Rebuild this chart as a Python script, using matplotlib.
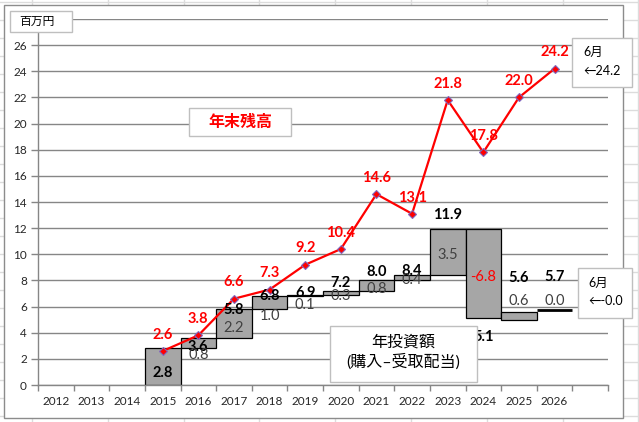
import numpy as np
import matplotlib
matplotlib.use("Agg")
import matplotlib.pyplot as plt
from matplotlib.patches import Rectangle
from matplotlib.lines import Line2D

plt.rcParams['font.family'] = ['Lato', 'Noto Sans CJK JP', 'DejaVu Sans']

# Data
years = ['2012', '2013', '2014', '2015', '2016', '2017', '2018', '2019',
         '2020', '2021', '2022', '2023', '2024', '2025', '2026', '']
data_years = ['2015', '2016', '2017', '2018', '2019', '2020', '2021',
              '2022', '2023', '2024', '2025', '2026']
invest = [2.8, 0.8, 2.2, 1.0, 0.1, 0.3, 0.8, 0.4, 3.5, -6.8, 0.6, 0.0]      # 年投資額
total = [2.8, 3.6, 5.8, 6.8, 6.9, 7.2, 8.0, 8.4, 11.9, 5.1, 5.6, 5.7]      # 累計投資額
balance = [2.6, 3.8, 6.6, 7.3, 9.2, 10.4, 14.6, 13.1, 21.8, 17.8, 22.0, 24.2]  # 年末残高

# label placement tweaks (pixels, up is positive), as placed by hand in the original
tot_dy = [-23.6, -7.7, 0.5, 1.8, 2.8, 8.9, 9.4, 5.2, 15.5, -17.7, 35, 34.5]
inc_dy = [None, -10.8, -3.1, -12.4, -7.9, -2.2, -2.1, -1.2, -1.0, -2.1, 15.7, 10.5]

W, H = 639, 422
fig = plt.figure(figsize=(W / 100, H / 100), dpi=100)

def fx(px):
    return px / W

def fy(py):
    return 1 - py / H

# spreadsheet cell grid behind the chart
for cx in np.arange(32, W, 75.8):
    fig.add_artist(Line2D([fx(cx)] * 2, [0, 1], transform=fig.transFigure,
                          color='#DCDCDC', lw=1, zorder=-5))
for cy in np.arange(2, H, 18):
    fig.add_artist(Line2D([0, 1], [fy(cy)] * 2, transform=fig.transFigure,
                          color='#DCDCDC', lw=1, zorder=-5))
# chart area
fig.add_artist(Rectangle((fx(4), fy(418)), fx(619), (418 - 5) / H,
                         transform=fig.transFigure, fc='white', ec='#8C8C8C',
                         lw=1, zorder=-4))

ax = fig.add_axes([fx(38), fy(385), fx(570), 366 / H])
ax.patch.set_visible(False)

x = np.arange(len(years))
xb = np.array([years.index(y) for y in data_years])
inv = np.array(invest)
tot = np.array(total)

ax.set_xlim(-0.5, len(years) - 0.5)
ax.set_ylim(0, 28)
ax.set_yticks(np.arange(0, 29, 2))
ax.set_yticklabels([str(v) for v in range(0, 27, 2)] + [''])
ax.set_xticks(x)
ax.set_xticklabels(years)
ax.set_xticks(np.arange(-0.5, len(years)), minor=True)
ax.tick_params(axis='x', which='major', length=0, pad=8, labelsize=8.5, colors='#262626')
ax.tick_params(axis='x', which='minor', length=4, width=1, color='#868686', direction='out')
ax.tick_params(axis='y', length=5, width=1, color='#868686', pad=3, labelsize=8.5,
               labelcolor='#262626')
ax.grid(axis='y', color='#868686', lw=1)
ax.set_axisbelow(True)
for s in ['top', 'right']:
    ax.spines[s].set_visible(False)
for s in ['left', 'bottom']:
    ax.spines[s].set_color('#868686')
    ax.spines[s].set_linewidth(1)

# waterfall bars (a zero step shows as a heavy flat line)
edge_w = [2.0 if v == 0 else 0.9 for v in invest]
ax.bar(xb, inv, bottom=tot - inv, width=1.0, color='#A6A6A6',
       edgecolor='black', linewidth=edge_w, zorder=2)

# year-end balance line
ax.plot(xb, balance, color='red', lw=1.6, marker='D', ms=4, mfc='red',
        mec='#8068C0', mew=0.8, zorder=4)


def label(xv, yv, dy, txt, size, **kw):
    ax.annotate(txt, (xv, yv), xytext=(0, dy - size / 2), textcoords='offset pixels',
                ha='center', va='baseline', fontsize=size, zorder=6, **kw)


for i in range(len(xb)):
    label(xb[i], balance[i], 17.5, f'{balance[i]:.1f}', 10.5, color='red',
          fontweight='bold')
    label(xb[i], tot[i], tot_dy[i], f'{tot[i]:.1f}', 10.5, color='black',
          fontweight='bold')
    if inc_dy[i] is not None:
        c = 'red' if inv[i] < 0 else '#404040'
        label(xb[i], tot[i] - inv[i] / 2, inc_dy[i], f'{inv[i]:.1f}', 10.5, color=c)


def fig_box(x0, y0, x1, y1):
    fig.add_artist(Rectangle((fx(x0), fy(y1)), fx(x1 - x0), (y1 - y0) / H,
                             transform=fig.transFigure, fc='white', ec='#BFBFBF',
                             lw=1, zorder=10))


def fig_text(px, py, s, **kw):
    fig.text(fx(px), fy(py), s, va='center', zorder=11, **kw)


fig_box(10, 11, 72, 32)
fig_text(19, 21.5, '百万円', fontsize=8.5, color='black')

fig_box(189, 108, 291, 136)
fig_text(240, 122, '年末残高', fontsize=11.5, color='red', ha='center', fontweight='bold')

fig_box(330, 326, 477, 382)
fig_text(403, 342, '年投資額', fontsize=11.5, color='black', ha='center')
fig_text(403, 362, '(購入–受取配当)', fontsize=11.5, color='black', ha='center')

fig_box(572, 38, 632, 87)
fig_text(583, 52, '6月', fontsize=9, color='black')
fig_text(583, 71, '←24.2', fontsize=9, color='black')

fig_box(578, 268, 632, 318)
fig_text(588.5, 283, '6月', fontsize=9, color='black')
fig_text(588.5, 301, '←-0.0', fontsize=9, color='black')

fig.savefig('out.png', dpi=100)
